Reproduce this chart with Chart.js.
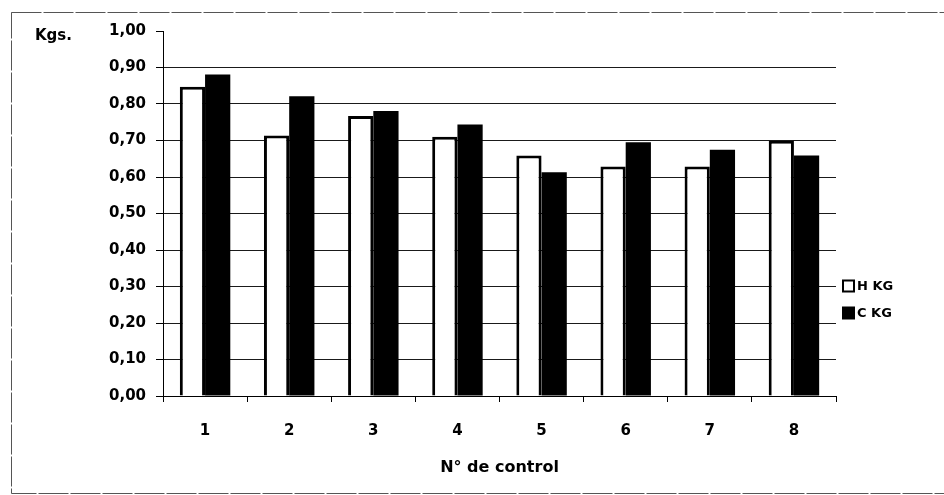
<!DOCTYPE html>
<html>
<head>
<meta charset="utf-8">
<title>Kgs. por N° de control</title>
<script src="https://cdn.jsdelivr.net/npm/chart.js@4.4.0/dist/chart.umd.min.js"></script>
<style>
    html, body { margin: 0; padding: 0; background: #ffffff; }
    #grafico { display: block; }
</style>
</head>
<body>
<canvas id="grafico" width="944" height="495"></canvas>
<script>
// Datos
const controles = ['1', '2', '3', '4', '5', '6', '7', '8'];
const hKg = [0.847, 0.714, 0.767, 0.710, 0.659, 0.629, 0.629, 0.699];
const cKg = [0.881, 0.821, 0.781, 0.744, 0.613, 0.695, 0.675, 0.659];
const nombresSeries = ['H KG', 'C KG'];
const tituloY = 'Kgs.';
const tituloX = 'N° de control';

const fuente = "'DejaVu Sans', sans-serif";

// Marco exterior y rotulo "Kgs."
const marcoPlugin = {
    id: 'marco',
    beforeDraw(chart) {
        const ctx = chart.ctx;
        ctx.save();
        ctx.fillStyle = '#ffffff';
        ctx.fillRect(0, 0, chart.width, chart.height);
        ctx.strokeStyle = '#555555';
        ctx.lineWidth = 1;
        ctx.setLineDash([30, 2]);
        ctx.strokeRect(11.5, 12.5, 940, 481);
        ctx.restore();
    },
    afterDraw(chart) {
        const ctx = chart.ctx;
        ctx.save();
        ctx.fillStyle = '#000000';
        ctx.font = 'bold 15px ' + fuente;
        ctx.textAlign = 'left';
        ctx.textBaseline = 'alphabetic';
        ctx.fillText(tituloY, 35, 39.5);
        ctx.restore();
    }
};

// Leyenda a la derecha, al estilo de Excel
const leyendaPlugin = {
    id: 'leyendaDerecha',
    afterDraw(chart) {
        const ctx = chart.ctx;
        const x = 843, y0 = 286, paso = 27, lado = 11;
        ctx.save();
        ctx.font = 'bold 13px ' + fuente;
        ctx.textBaseline = 'middle';
        ctx.textAlign = 'left';
        chart.data.datasets.forEach((ds, i) => {
            const y = y0 + i * paso;
            ctx.fillStyle = ds.backgroundColor;
            ctx.fillRect(x, y - lado / 2, lado, lado);
            ctx.strokeStyle = '#000000';
            ctx.lineWidth = 2;
            ctx.strokeRect(x, y - lado / 2, lado, lado);
            ctx.fillStyle = '#000000';
            ctx.fillText(ds.label, x + lado + 3, y + 0.5);
        });
        ctx.restore();
    }
};

const ctx = document.getElementById('grafico').getContext('2d');

new Chart(ctx, {
    type: 'bar',
    data: {
        labels: controles,
        datasets: [
            {
                label: nombresSeries[0],
                data: hKg,
                backgroundColor: '#ffffff',
                borderColor: '#000000',
                borderWidth: 3,
                categoryPercentage: 0.6,
                barPercentage: 1.0
            },
            {
                label: nombresSeries[1],
                data: cKg,
                backgroundColor: '#000000',
                borderColor: '#000000',
                borderWidth: 0,
                categoryPercentage: 0.6,
                barPercentage: 1.0
            }
        ]
    },
    options: {
        responsive: false,
        animation: false,
        devicePixelRatio: 1,
        layout: {
            padding: { top: 31, right: 108, bottom: 0, left: 0 }
        },
        plugins: {
            legend: { display: false },
            tooltip: { enabled: false }
        },
        scales: {
            x: {
                grid: {
                    offset: true,
                    drawOnChartArea: false,
                    drawTicks: true,
                    tickLength: 6,
                    color: '#000000'
                },
                border: { display: true, color: '#000000', width: 1 },
                ticks: {
                    color: '#000000',
                    font: { family: fuente, size: 15, weight: 'bold' },
                    padding: 20,
                    maxRotation: 0
                },
                title: {
                    display: true,
                    text: tituloX,
                    color: '#000000',
                    font: { family: fuente, size: 16, weight: 'bold' },
                    padding: { top: 0, bottom: 18 }
                },
                afterFit(scale) { scale.height = 99; }
            },
            y: {
                min: 0,
                max: 1,
                ticks: {
                    stepSize: 0.1,
                    color: '#000000',
                    font: { family: fuente, size: 15, weight: 'bold' },
                    padding: 10,
                    callback: v => v.toFixed(2).replace('.', ',')
                },
                grid: {
                    color: c => (c.tick && c.tick.value >= 0.999) ? 'rgba(0,0,0,0)' : '#1a1a1a',
                    tickColor: '#000000',
                    tickLength: 7,
                    lineWidth: 1
                },
                border: { display: true, color: '#000000', width: 1 },
                afterFit(scale) { scale.width = 163; }
            }
        }
    },
    plugins: [marcoPlugin, leyendaPlugin]
});
</script>
</body>
</html>
